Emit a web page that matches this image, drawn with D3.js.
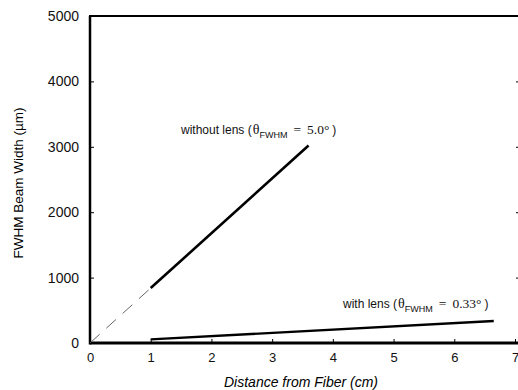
<!DOCTYPE html>
<meta charset="utf-8">
<style>
    body { margin: 0; background: #fff; }
    .tick text { font-family: Arial, "Liberation Sans", sans-serif; font-size: 13px; fill: #111; }
    .note { font-family: Arial, "Liberation Sans", sans-serif; font-size: 12px; fill: #111; }
</style>
<body>
<script src="https://d3js.org/d3.v7.min.js"></script>
<script>
    // values
    var xTicks = [0, 1, 2, 3, 4, 5, 6, 7];
    var yTicks = [0, 1000, 2000, 3000, 4000, 5000];
    var noLensDash = [[0, 0], [1, 840]];      // extrapolated part
    var noLens = [[1, 840], [3.6, 3020]];
    var withLens = [[1, 55], [6.65, 336]];

    var width = 518, height = 390;
    var x = d3.scaleLinear().domain([0, 7]).range([90, 515]);
    var y = d3.scaleLinear().domain([0, 5000]).range([343, 16]);

    var svg = d3.select("body").append("svg")
        .attr("width", width)
        .attr("height", height);

    // axes with small inward ticks
    var gx = svg.append("g")
        .attr("transform", "translate(0," + y(0) + ")")
        .call(d3.axisBottom(x).tickValues(xTicks).tickSize(-4).tickPadding(10).tickFormat(d3.format("d")));
    gx.select(".domain").remove();

    var gy = svg.append("g")
        .attr("transform", "translate(" + x(0) + ",0)")
        .call(d3.axisLeft(y).tickValues(yTicks).tickSize(-4).tickPadding(11).tickFormat(d3.format("d")));
    gy.select(".domain").remove();
    gy.selectAll(".tick text").style("font-size", "14px");

    // right side ticks (frame continues off the edge)
    svg.append("g")
        .attr("transform", "translate(519,0)")
        .call(d3.axisRight(y).tickValues(yTicks).tickSize(-3).tickFormat(""))
        .select(".domain").remove();

    // frame
    svg.append("line").attr("x1", x(0)).attr("x2", 520).attr("y1", y(0)).attr("y2", y(0))
        .attr("stroke", "#000").attr("stroke-width", 3);
    svg.append("line").attr("x1", x(0)).attr("x2", x(0)).attr("y1", y(0) + 1.5).attr("y2", y(5000))
        .attr("stroke", "#000").attr("stroke-width", 2.5);
    svg.append("line").attr("x1", x(0) - 1).attr("x2", 520).attr("y1", y(5000)).attr("y2", y(5000))
        .attr("stroke", "#000").attr("stroke-width", 2);

    var line = d3.line()
        .x(function (d) { return x(d[0]); })
        .y(function (d) { return y(d[1]); });

    svg.append("path").datum(noLensDash)
        .attr("d", line)
        .attr("fill", "none")
        .attr("stroke", "#555")
        .attr("stroke-width", 0.9)
        .attr("stroke-dasharray", "13,9");

    svg.append("path").datum(noLens)
        .attr("d", line)
        .attr("fill", "none")
        .attr("stroke", "#000")
        .attr("stroke-width", 2.6);

    svg.append("path").datum(withLens)
        .attr("d", line)
        .attr("fill", "none")
        .attr("stroke", "#000")
        .attr("stroke-width", 2.4);

    // annotations
    var serif = "'Liberation Serif', 'Times New Roman', serif";
    function note(px, py, pre, val) {
        var t = svg.append("text").attr("class", "note").attr("x", px).attr("y", py);
        t.append("tspan").text(pre + " (");
        t.append("tspan").attr("font-family", serif).attr("font-size", "14px").attr("dx", 1).text("\u03b8");
        t.append("tspan").attr("font-size", "9px").attr("dy", 3.5).text("FWHM");
        t.append("tspan").attr("dy", -3.5).attr("dx", 6).attr("font-family", serif)
            .attr("font-size", "13.5px").text("=");
        t.append("tspan").attr("dx", 6).attr("font-family", serif)
            .attr("font-size", "13.5px").text(val + "\u00b0");
        t.append("tspan").attr("dx", 3).text(")");
    }
    note(181, 134, "without lens", "5.0");
    note(343, 308, "with lens", "0.33");

    // axis titles
    svg.append("text")
        .attr("x", 301).attr("y", 387)
        .attr("text-anchor", "middle")
        .attr("font-family", "Arial, 'Liberation Sans', sans-serif")
        .attr("font-size", "14px")
        .attr("font-style", "italic")
        .text("Distance from Fiber (cm)");

    svg.append("text")
        .attr("transform", "translate(23,183) rotate(-90)")
        .attr("text-anchor", "middle")
        .attr("font-family", "Arial, 'Liberation Sans', sans-serif")
        .attr("font-size", "13.5px")
        .text("FWHM Beam Width (\u00b5m)");
</script>
</body>
